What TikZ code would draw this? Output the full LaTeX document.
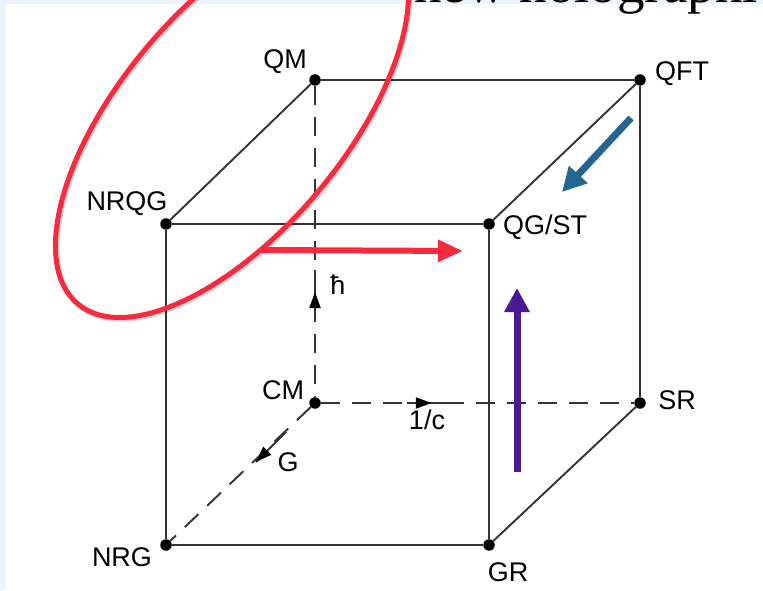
\documentclass[tikz,border=0pt]{standalone}
\usepackage{fontspec}
\setmainfont{Liberation Serif}
\setsansfont{Liberation Sans}
\usetikzlibrary{arrows.meta,decorations.markings}
\definecolor{slideblue}{HTML}{EDF3FC}
\definecolor{ovalred}{HTML}{F92A3D}
\definecolor{arrowpurple}{HTML}{4A1A96}
\definecolor{arrowblue}{HTML}{246692}

\begin{document}
\begin{tikzpicture}[x=1pt, y=1pt,
    edge/.style={line width=1.9pt, black!80},
    hidden/.style={edge, dash pattern=on 19pt off 12pt},
    dot/.style={circle, fill=black, inner sep=0pt, minimum size=11.5pt},
    lbl/.style={font=\sffamily\fontsize{27}{29}\selectfont, inner sep=0pt},
    axisarrow/.style={edge, postaction={decorate},
        decoration={markings, mark=at position #1 with {\arrow[black]{Triangle[length=16pt,width=11pt]}}}},
    bigarr/.style={line width=7pt, -{Triangle[length=24pt,width=24pt]}},
    shade/.style={black, opacity=0.15, line width=7pt, shift={(1.5,-2)}}
]
\useasboundingbox (0,0) rectangle (763,590);
\fill[slideblue] (0,0) rectangle (763,590);
\fill[white] (6,0) rectangle (763,586);
\begin{scope}
  \clip (0,0) rectangle (763,590);
  \node[anchor=base west, inner sep=0pt, font=\fontsize{55}{60}\selectfont] (title) at (414,587) {new holographic};
\end{scope}

% cube corners
\node[dot] (qm)   at (315,510) {};
\node[dot] (qft)  at (640,510) {};
\node[dot] (nrqg) at (166,366) {};
\node[dot] (qgst) at (489,366) {};
\node[dot] (cm)   at (315,187) {};
\node[dot] (sr)   at (640,187) {};
\node[dot] (nrg)  at (166,45) {};
\node[dot] (gr)   at (489,45) {};

\draw[edge] (qm) -- (qft) -- (qgst) -- (nrqg) -- (qm);
\draw[edge] (qft) -- (sr) -- (gr) -- (nrg) -- (nrqg);
\draw[edge] (qgst) -- (gr);
\draw[hidden] (qm) -- (cm);
\draw[hidden] (cm) -- (sr);
\draw[hidden] (cm) -- (nrg);

% axis directions
\coordinate (h0) at (315,276);
\coordinate (h1) at (315,320);
\coordinate (c0) at (407,187);
\coordinate (c1) at (452,187);
\coordinate (g0) at (286,158);
\coordinate (g1) at (256,128);
\draw[axisarrow=0.5] (h0) -- (h1);
\draw[axisarrow=0.55] (c0) -- (c1);
\draw[axisarrow=1] (g0) -- (g1);

\node[lbl] (lqm)   at (285,528) {QM};
\node[lbl] (lqft)  at (682,516) {QFT};
\node[lbl] (lnrqg) at (127,386) {NRQG};
\node[lbl] (lqgst) at (545,363) {QG/ST};
\node[lbl] (lcm)   at (283,200) {CM};
\node[lbl] (lsr)   at (677,190) {SR};
\node[lbl] (lnrg)  at (122,33) {NRG};
\node[lbl] (lgr)   at (508,18) {GR};
\node[lbl] (lh)    at (338,305) {ħ};
\node[lbl] (lc)    at (427,170) {1/c};
\node[lbl] (lg)    at (288,128) {G};

% highlight
\draw[shade, line width=5pt, rotate around={50:(232,470)}] (232,470) ellipse [x radius=240, y radius=112];
\draw[ovalred, line width=5pt, rotate around={50:(232,470)}] (232,470) ellipse [x radius=240, y radius=112];

\coordinate (r0) at (262,340);
\coordinate (r1) at (463,339);
\coordinate (p0) at (517,118);
\coordinate (p1) at (517,302);
\coordinate (b0) at (631,472);
\coordinate (b1) at (562,398);
\draw[bigarr, ovalred, line width=6pt, -{Triangle[length=25pt,width=21pt]}] (r0) -- (r1);
\draw[bigarr, arrowpurple] (p0) -- (p1);
\draw[bigarr, arrowblue] (b0) -- (b1);
\end{tikzpicture}
\end{document}
